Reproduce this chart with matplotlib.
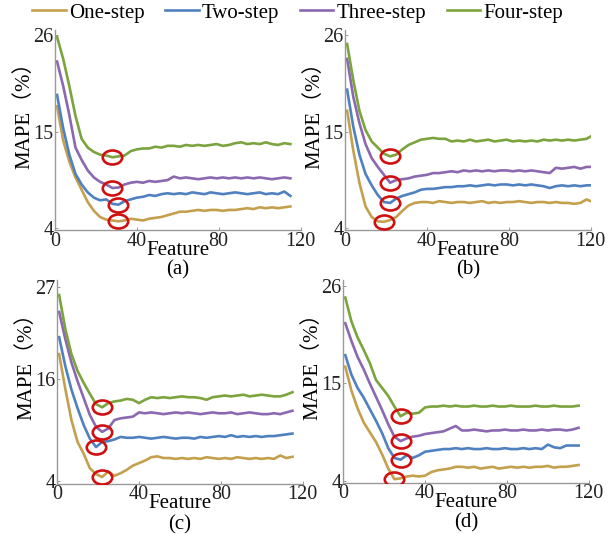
import numpy as np
import matplotlib
matplotlib.use("Agg")
import matplotlib.pyplot as plt
from matplotlib.path import Path
from matplotlib.transforms import Affine2D

plt.rcParams["font.family"] = ["Liberation Serif", "Noto Sans CJK SC"]
plt.rcParams["font.size"] = 15

series_names = ["One-step", "Two-step", "Three-step", "Four-step"]
colors = ["#C4A04E", "#4F81C0", "#8B68B0", "#7BA33E"]

# 特征数（每 3 个取一个点）
feat_115 = np.arange(1, 116, 3)
feat_121 = np.arange(1, 122, 3)

# ---- (a) ----
a_one = [17.9, 14.0, 11.6, 9.8, 8.4, 7.0, 6.0, 5.3, 5.0, 4.9, 4.8, 4.9, 5.1, 5.0, 4.9, 5.1, 5.2, 5.3, 5.5, 5.7,
         5.9, 5.9, 6.0, 6.1, 6.0, 6.1, 6.1, 6.0, 6.1, 6.1, 6.2, 6.3, 6.2, 6.4, 6.3, 6.4, 6.3, 6.4, 6.5]
a_two = [19.2, 15.4, 12.4, 10.2, 9.0, 8.1, 7.5, 7.2, 7.3, 6.8, 6.7, 7.1, 7.3, 7.5, 7.6, 7.8, 7.7, 7.9, 8.0, 7.9,
         8.0, 7.9, 8.1, 8.0, 7.9, 8.1, 8.0, 7.9, 8.0, 8.1, 8.0, 7.9, 8.0, 8.1, 7.9, 8.0, 7.9, 8.2, 7.7]
a_three = [23.0, 20.2, 16.9, 13.2, 11.8, 10.6, 9.8, 9.3, 9.0, 8.6, 8.65, 9.0, 9.2, 9.3, 9.2, 9.4, 9.3, 9.4, 9.5, 9.9,
           9.7, 9.8, 9.7, 9.6, 9.7, 9.8, 9.7, 9.8, 9.7, 9.8, 9.7, 9.8, 9.7, 9.8, 9.7, 9.6, 9.7, 9.8, 9.7]
a_four = [25.8, 23.3, 20.2, 16.8, 14.2, 13.2, 12.7, 12.4, 12.3, 12.1, 12.2, 12.3, 12.8, 13.0, 13.1, 13.1, 13.3, 13.2,
          13.4, 13.4, 13.3, 13.5, 13.4, 13.5, 13.4, 13.5, 13.6, 13.4, 13.5, 13.7, 13.8, 13.6, 13.7, 13.6, 13.8, 13.6,
          13.5, 13.7, 13.6]

# ---- (b) ----
b_one = [17.4, 12.9, 9.2, 6.5, 5.3, 4.8, 4.75, 4.95, 5.3, 6.0, 6.6, 6.9, 7.0, 7.0, 6.9, 7.1, 7.0, 6.9, 7.0, 7.0,
         6.9, 7.0, 7.1, 6.9, 7.0, 6.9, 7.0, 7.0, 7.1, 7.0, 6.9, 7.0, 7.0, 6.9, 7.0, 6.9, 6.9, 6.8, 6.9, 7.3, 7.0]
b_two = [19.8, 15.6, 12.4, 10.2, 8.9, 7.8, 7.0, 6.9, 7.4, 7.7, 7.9, 8.1, 8.4, 8.5, 8.5, 8.6, 8.7, 8.7, 8.8, 8.8,
         8.9, 8.8, 8.9, 9.0, 8.9, 9.0, 9.0, 8.9, 9.0, 8.9, 9.0, 8.9, 8.8, 8.6, 8.8, 8.9, 8.8, 8.9, 8.8, 8.9, 8.9]
b_three = [23.3, 19.0, 16.0, 13.6, 12.0, 11.0, 10.1, 9.2, 9.5, 9.6, 9.7, 9.9, 10.0, 10.1, 10.3, 10.3, 10.4, 10.5,
           10.4, 10.6, 10.5, 10.6, 10.5, 10.6, 10.5, 10.6, 10.6, 10.5, 10.6, 10.5, 10.6, 10.5, 10.4, 10.3, 10.9,
           10.8, 10.9, 11.0, 10.8, 11.0, 11.0]
b_four = [25.0, 20.9, 17.4, 15.2, 13.9, 13.2, 12.5, 12.2, 12.4, 13.0, 13.5, 13.8, 14.1, 14.2, 14.3, 14.2, 14.2,
          13.9, 14.0, 13.9, 14.1, 13.9, 14.0, 14.1, 13.9, 14.0, 14.1, 13.9, 14.0, 13.9, 14.0, 13.9, 14.1, 14.0,
          14.1, 14.0, 14.1, 14.0, 14.1, 14.2, 14.6]

# ---- (c) ----
c_one = [19.0, 14.9, 11.2, 8.6, 7.2, 5.5, 4.8, 4.45, 5.1, 4.6, 4.9, 5.3, 5.8, 6.1, 6.4, 6.8, 6.9, 6.7, 6.7, 6.6,
         6.7, 6.6, 6.7, 6.6, 6.8, 6.7, 6.6, 6.7, 6.6, 6.8, 6.7, 6.6, 6.7, 6.6, 6.7, 6.6, 7.0, 6.7, 6.85]
c_two = [21.0, 17.6, 14.8, 12.6, 10.6, 9.0, 8.0, 8.6, 8.7, 8.9, 9.2, 9.1, 9.1, 9.2, 9.1, 9.0, 9.1, 9.2, 9.1, 9.0,
         9.1, 9.1, 9.0, 9.2, 9.1, 9.2, 9.3, 9.2, 9.4, 9.2, 9.3, 9.2, 9.3, 9.2, 9.3, 9.3, 9.4, 9.5, 9.6]
c_three = [24.0, 20.8, 18.0, 15.8, 13.8, 11.8, 10.4, 9.8, 10.2, 11.2, 11.4, 11.5, 11.6, 12.1, 12.0, 12.1, 12.0,
           11.9, 12.0, 12.1, 12.0, 12.1, 12.0, 11.9, 12.0, 12.1, 12.0, 12.0, 12.1, 11.9, 12.0, 12.1, 12.0, 11.9,
           11.9, 12.0, 11.9, 12.1, 12.3]
c_four = [26.0, 22.0, 19.0, 17.0, 15.6, 14.3, 13.1, 12.7, 13.2, 13.4, 13.5, 13.7, 13.6, 13.2, 13.6, 13.9, 13.8,
          13.9, 13.8, 13.9, 14.0, 13.9, 13.9, 13.8, 13.6, 13.9, 14.0, 14.1, 14.0, 14.1, 14.2, 14.0, 14.1, 14.2,
          14.1, 14.0, 14.0, 14.2, 14.5]

# ---- (d) ----
d_one = [16.9, 14.2, 12.2, 10.6, 9.5, 8.4, 7.0, 5.4, 4.2, 4.3, 4.5, 4.6, 4.5, 4.6, 5.0, 5.2, 5.3, 5.4, 5.6, 5.6,
         5.5, 5.6, 5.4, 5.5, 5.6, 5.4, 5.5, 5.6, 5.5, 5.6, 5.5, 5.6, 5.6, 5.7, 5.5, 5.6, 5.6, 5.7, 5.8]
d_two = [18.2, 16.0, 14.5, 13.4, 12.1, 10.8, 9.4, 7.7, 6.6, 6.4, 6.9, 6.6, 6.9, 7.3, 7.4, 7.5, 7.6, 7.6, 7.7, 7.6,
         7.7, 7.6, 7.6, 7.7, 7.6, 7.6, 7.7, 7.6, 7.6, 7.7, 7.6, 7.7, 7.6, 8.1, 7.8, 7.7, 8.0, 8.0, 8.0]
d_three = [21.8, 19.8, 18.0, 16.6, 15.0, 13.5, 12.0, 10.4, 9.0, 8.5, 8.8, 9.0, 9.1, 9.3, 9.4, 9.5, 9.6, 9.9, 10.2,
           9.7, 9.7, 9.8, 9.7, 9.6, 9.7, 9.7, 9.8, 9.7, 9.7, 9.8, 9.7, 9.7, 9.8, 9.7, 9.8, 9.8, 9.7, 9.8, 10.0]
d_four = [24.7, 22.0, 20.2, 18.8, 17.3, 15.4, 14.5, 13.6, 12.4, 11.3, 11.7, 11.6, 11.7, 12.3, 12.4, 12.4, 12.5,
          12.4, 12.5, 12.4, 12.4, 12.5, 12.4, 12.4, 12.5, 12.4, 12.4, 12.5, 12.4, 12.4, 12.4, 12.5, 12.4, 12.4,
          12.5, 12.4, 12.4, 12.4, 12.5]

panels = [
    ("(a)", feat_115, [a_one, a_two, a_three, a_four], (3.8, 26.6), [4, 15, 26]),
    ("(b)", feat_121, [b_one, b_two, b_three, b_four], (3.8, 26.6), [4, 15, 26]),
    ("(c)", feat_115, [c_one, c_two, c_three, c_four], (3.65, 27.8), [4, 16, 27]),
    ("(d)", feat_115, [d_one, d_two, d_three, d_four], (3.8, 26.7), [4, 15, 26]),
]
# 各子图位置 [left, bottom, width, height]
rects = [
    [0.0896, 0.569, 0.400, 0.375],
    [0.562, 0.569, 0.400, 0.375],
    [0.093, 0.094, 0.400, 0.382],
    [0.559, 0.096, 0.400, 0.380],
]

# 最优特征数标记：扁椭圆
ellipse = Path.unit_circle().transformed(Affine2D().scale(1.0, 0.72))

fig = plt.figure(figsize=(6.14, 5.34), dpi=100)
handles = []
for (tag, feat, ys, ylim, yticks), rect in zip(panels, rects):
    ax = fig.add_axes(rect)
    lines = []
    for y, c, name in zip(ys, colors, series_names):
        ln, = ax.plot(feat, y, color=c, lw=1.9, label=name)
        lines.append(ln)
        k = int(np.argmin(y))
        ax.plot(feat[k], y[k], marker=ellipse, ms=14, mfc="none",
                mec="#D01010", mew=1.9, zorder=5)
    if not handles:
        handles = lines
    ax.set_xlim(0, 120)
    ax.set_ylim(*ylim)
    ax.set_xticks([0, 40, 80, 120])
    ax.set_yticks(yticks)
    ax.tick_params(direction="in", length=2, width=0.6, colors="#888888",
                   labelcolor="#222222", labelsize=14.5, pad=1)
    for s in ["top", "right"]:
        ax.spines[s].set_visible(False)
    for s in ["left", "bottom"]:
        ax.spines[s].set_color("#999999")
        ax.spines[s].set_linewidth(1.0)
    ax.set_xlabel("Feature", fontsize=15, labelpad=-7)
    ax.set_ylabel("MAPE（%）", fontsize=15)
    ax.yaxis.set_label_coords(-0.085, 0.6)
    ax.text(0.5, -0.2, tag, transform=ax.transAxes, ha="center", va="center", fontsize=15)

fig.legend(handles, series_names, loc="center", bbox_to_anchor=(0.485, 0.976), ncol=4,
           frameon=False, fontsize=15, handlelength=1.6, handletextpad=0.15,
           columnspacing=1.0, borderaxespad=0)

fig.savefig("out.png", dpi=100)
